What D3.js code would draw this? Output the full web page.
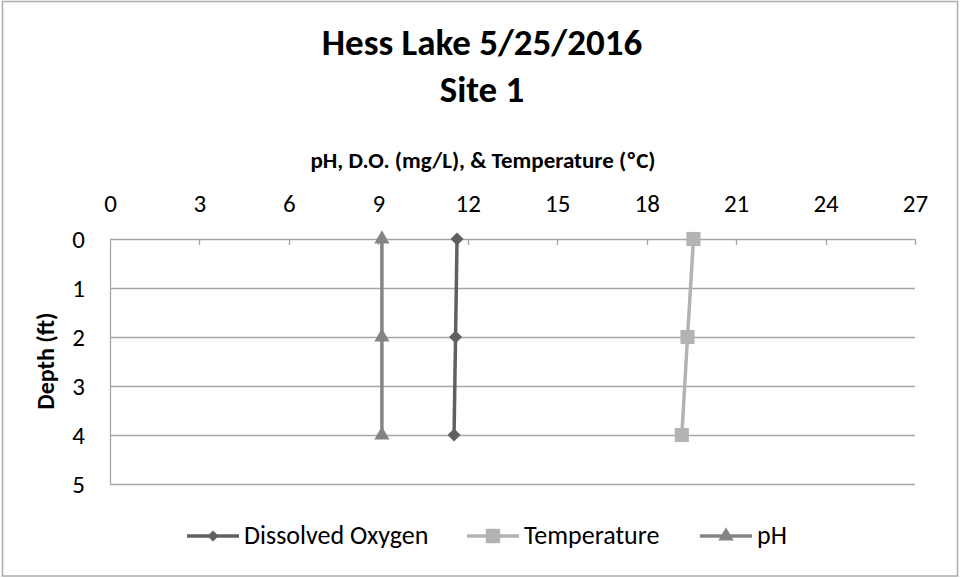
<!DOCTYPE html>
<html>
<head>
<meta charset="utf-8">
<script src="https://cdn.jsdelivr.net/npm/d3@7"></script>
<style>
  body { margin: 0; background: #fff; }
  text { font-family: Carlito, Calibri, Lato, sans-serif; fill: #000; }
</style>
</head>
<body>
<div id="chart"></div>
<script>
// DATA
const depths = [0, 2, 4];
const dissolvedOxygen = [11.64, 11.59, 11.54];
const temperature = [19.57, 19.37, 19.18];
const pH = [9.12, 9.12, 9.12];
const xTicks = [0, 3, 6, 9, 12, 15, 18, 21, 24, 27];
const yTicks = [0, 1, 2, 3, 4, 5];
const seriesNames = ['Dissolved Oxygen', 'Temperature', 'pH'];

// SETTINGS
const width = 960, height = 578;
const margin = { top: 239, right: 45, bottom: 94, left: 110 };
const graphWidth = width - margin.left - margin.right;
const graphHeight = height - margin.top - margin.bottom;
const gridColor = '#a6a6a6';

const series = [
  { name: seriesNames[0], values: dissolvedOxygen, color: '#606060', symbol: d3.symbolDiamond2, size: 110, legendSize: 80, legendX: 187 },
  { name: seriesNames[1], values: temperature, color: '#b3b3b3', symbol: d3.symbolSquare, size: 200, legendSize: 210, legendX: 467 },
  { name: seriesNames[2], values: pH, color: '#848484', symbol: d3.symbolTriangle, size: 100, legendSize: 100, legendX: 700 }
];

// SCALES
const x = d3.scaleLinear().domain([0, 27]).range([0, graphWidth]);
const y = d3.scaleLinear().domain([0, 5]).range([0, graphHeight]);

const svg = d3.select('#chart').append('svg')
  .attr('width', width)
  .attr('height', height);

// chart border
svg.append('rect')
  .attr('x', 2.5).attr('y', 1.5)
  .attr('width', 955).attr('height', 574.5)
  .attr('fill', 'none')
  .attr('stroke', '#adadad')
  .attr('stroke-width', 1.5);

// TITLE
const title = svg.append('text')
  .attr('text-anchor', 'middle')
  .style('font-weight', 'bold')
  .style('font-size', '37px');
title.append('tspan').attr('x', 482).attr('y', 55).text('Hess Lake 5/25/2016');
title.append('tspan').attr('x', 482).attr('y', 102).text('Site 1');

const graph = svg.append('g')
  .attr('transform', `translate(${margin.left}, ${margin.top})`);

// GRIDLINES
graph.append('g')
  .selectAll('line')
  .data(yTicks)
  .join('line')
    .attr('x1', 0).attr('x2', graphWidth)
    .attr('y1', d => Math.round(y(d)) + 0.5)
    .attr('y2', d => Math.round(y(d)) + 0.5)
    .attr('stroke', gridColor)
    .attr('stroke-width', 1.3);

// AXES
const xAxis = d3.axisTop(x).tickValues(xTicks).tickSize(0).tickPadding(27);
const xAxisGroup = graph.append('g').call(xAxis);
xAxisGroup.select('.domain').remove();
xAxisGroup.selectAll('text').style('font-size', '25px');

// tick marks pointing into the plot
graph.append('g')
  .selectAll('line')
  .data(xTicks.slice(1))
  .join('line')
    .attr('x1', d => Math.round(x(d)) + 0.5)
    .attr('x2', d => Math.round(x(d)) + 0.5)
    .attr('y1', 0).attr('y2', 6)
    .attr('stroke', gridColor)
    .attr('stroke-width', 1.3);

const yAxis = d3.axisLeft(y).tickValues(yTicks).tickSize(0).tickPadding(25)
  .tickFormat(d3.format('d'));
const yAxisGroup = graph.append('g').call(yAxis);
yAxisGroup.select('.domain')
  .attr('stroke', gridColor)
  .attr('stroke-width', 1.3);
yAxisGroup.selectAll('text').style('font-size', '25px');

// AXIS TITLES
svg.append('text')
  .attr('x', 483).attr('y', 168)
  .attr('text-anchor', 'middle')
  .style('font-weight', 'bold')
  .style('font-size', '23px')
  .text('pH, D.O. (mg/L), & Temperature (ºC)');

svg.append('text')
  .attr('transform', 'translate(54, 361) rotate(-90)')
  .attr('text-anchor', 'middle')
  .style('font-weight', 'bold')
  .style('font-size', '24px')
  .text('Depth (ft)');

// LINES
const line = d3.line()
  .x(d => x(d.value))
  .y(d => y(d.depth));

series.forEach(s => {
  const pts = depths.map((d, i) => ({ depth: d, value: s.values[i] }));
  graph.append('path')
    .datum(pts)
    .attr('fill', 'none')
    .attr('stroke', s.color)
    .attr('stroke-width', 3.5)
    .attr('d', line);
  graph.append('g')
    .selectAll('path')
    .data(pts)
    .join('path')
      .attr('transform', d => `translate(${x(d.value)}, ${y(d.depth)})`)
      .attr('d', d3.symbol().type(s.symbol).size(s.size))
      .attr('fill', s.color);
});

// LEGEND
const legend = svg.append('g').attr('transform', 'translate(0, 536)');
series.forEach(s => {
  const g = legend.append('g').attr('transform', `translate(${s.legendX}, 0)`);
  g.append('line')
    .attr('x1', 0).attr('x2', 52)
    .attr('y1', 0).attr('y2', 0)
    .attr('stroke', s.color)
    .attr('stroke-width', 3.5);
  g.append('path')
    .attr('transform', 'translate(26, 0)')
    .attr('d', d3.symbol().type(s.symbol).size(s.legendSize))
    .attr('fill', s.color);
  g.append('text')
    .attr('x', 57).attr('y', 8)
    .style('font-size', '26px')
    .text(s.name);
});
</script>
</body>
</html>
